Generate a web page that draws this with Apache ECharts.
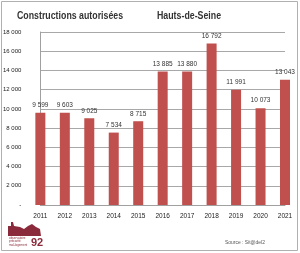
<!DOCTYPE html>
<html><head><meta charset="utf-8">
<script src="https://cdn.jsdelivr.net/npm/echarts@6/dist/echarts.min.js"></script>
<style>html,body{margin:0;padding:0;background:#fff}#c{width:300px;height:253px}</style>
</head><body><div id="c"></div>
<script>
const categories = ['2011','2012','2013','2014','2015','2016','2017','2018','2019','2020','2021'];
const values = [9599, 9603, 9025, 7534, 8715, 13885, 13880, 16792, 11991, 10073, 13043];
const yTicks = [0, 2000, 4000, 6000, 8000, 10000, 12000, 14000, 16000, 18000];
const titleText = 'Constructions autorisées';
const subtitleText = 'Hauts-de-Seine';
const sourceText = 'Source : Sit@del2';

function fmt(v){ return v === 0 ? '-' : String(v).replace(/\B(?=(\d{3})+(?!\d))/g, ' '); }

const chart = echarts.init(document.getElementById('c'), null, {renderer:'canvas'});
const font = '"Liberation Sans",Arial,sans-serif';
chart.setOption({
  animation:false,
  backgroundColor:'#fff',
  grid:{left:40, right:15, top:32, bottom:48},
  xAxis:{type:'category', data:categories, boundaryGap:false,
    axisLine:{show:true, lineStyle:{color:'#a0a0a0'}}, axisTick:{show:false},
    axisLabel:{fontFamily:font, fontSize:6.5, color:'#222', margin:8, interval:0}},
  yAxis:{type:'value', min:yTicks[0], max:yTicks[yTicks.length-1], interval:2000,
    axisLine:{show:true, lineStyle:{color:'#a0a0a0'}}, axisTick:{show:false},
    splitLine:{lineStyle:{color:'#a8a8a8'}},
    axisLabel:{fontFamily:font, fontSize:6, color:'#222', margin:19, formatter:fmt}},
  series:[{type:'bar', data:values, barWidth:10, clip:true,
    itemStyle:{color:'#C0504D'},
    label:{show:true, position:'top', distance:4, fontFamily:font, fontSize:6.5, color:'#333', formatter:p=>fmt(p.value)}}],
  graphic:[
    {type:'rect', shape:{x:1.5,y:1.5,width:296,height:249}, style:{fill:null, stroke:'#b0b0b0', lineWidth:1}, silent:true},
    {type:'text', x:17, y:10, scaleX:0.8, style:{text:titleText, font:'bold 11px '+font, fill:'#333'}},
    {type:'text', x:157, y:10, scaleX:0.8, style:{text:subtitleText, font:'bold 11px '+font, fill:'#333'}},
    {type:'text', x:225, y:239, scaleX:0.9, style:{text:sourceText, font:'5.5px '+font, fill:'#555'}},
    {type:'polygon', shape:{points:[[8,236],[8,226],[11,226],[11,222],[13,222],[14,226],[20,227],[24,229],[28,226],[32,224],[36,227],[40,229],[41,236]]}, style:{fill:'#8B2A3A'}},
    {type:'text', x:9, y:236, style:{text:'observatoire\nprécarité\nmal-logement', font:'3px sans-serif', fill:'#8B2A3A', lineHeight:3.5}},
    {type:'text', x:31, y:237, style:{text:'92', font:'bold 11px '+font, fill:'#8B2A3A'}}
  ]
});
</script></body></html>
